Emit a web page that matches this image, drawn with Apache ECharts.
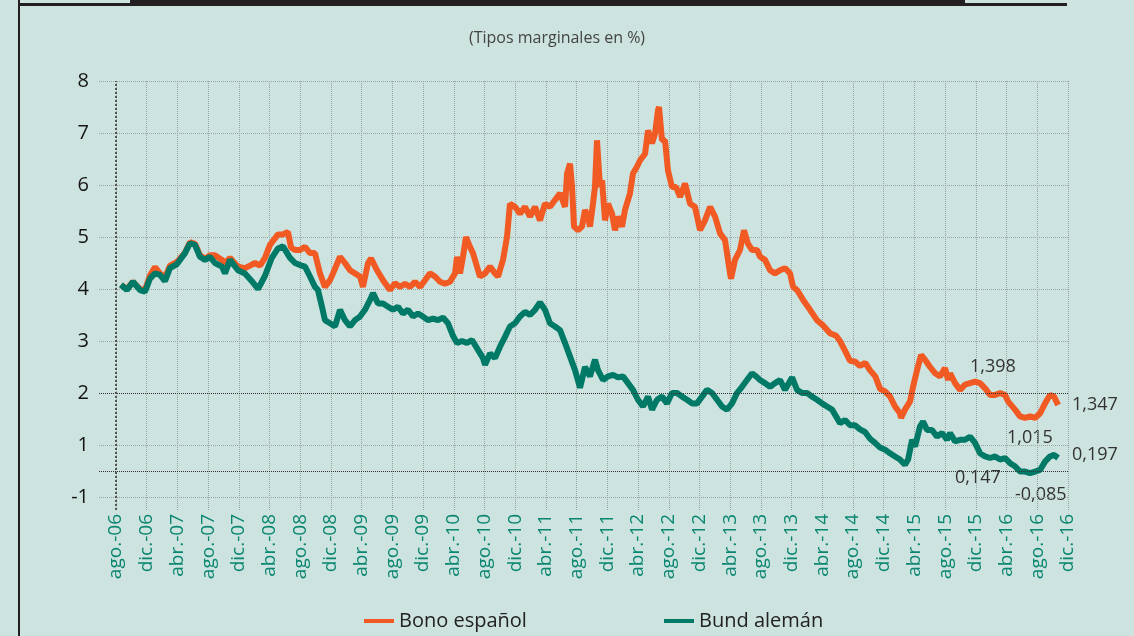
<!DOCTYPE html>
<html><head><meta charset="utf-8">
<script src="https://cdn.jsdelivr.net/npm/echarts@6.0.0/dist/echarts.min.js"></script>
<style>html,body{margin:0;padding:0;background:#cde3e0;}#c{width:1134px;height:636px;}</style>
</head><body><div id="c"></div>
<script>
const xLabels = ['ago.-06','dic.-06','abr.-07','ago.-07','dic.-07','abr.-08','ago.-08','dic.-08','abr.-09','ago.-09','dic.-09','abr.-10','ago.-10','dic.-10','abr.-11','ago.-11','dic.-11','abr.-12','ago.-12','dic.-12','abr.-13','ago.-13','dic.-13','abr.-14','ago.-14','dic.-14','abr.-15','ago.-15','dic.-15','abr.-16','ago.-16','dic.-16'];
const yTicks = [0,1,2,3,4,5,6,7,8];
const yLabels = ['-1','1','2','3','4','5','6','7','8'];
const refLevels = [2, 0.5];

// months since ago.-06
const bonoMonths = [0.65,1.43,2.21,3.13,3.78,4.43,5.08,5.73,6.38,7.03,7.95,8.99,9.64,10.29,10.94,11.59,12.24,12.89,13.81,14.2,14.85,15.89,16.8,17.46,18.11,18.76,19.41,20.06,21.1,21.75,22.4,22.8,23.32,23.97,24.62,25.27,25.92,26.57,27.22,27.88,28.27,29.18,29.83,30.48,31.13,31.78,32.17,32.83,33.22,34.0,34.78,35.69,36.34,36.99,37.64,38.3,38.95,39.6,40.25,40.9,41.55,42.2,42.86,43.51,44.16,44.42,44.81,45.2,45.59,46.11,46.5,47.02,47.41,48.07,48.72,49.37,49.76,50.41,50.93,51.32,51.97,52.62,53.28,53.93,54.58,55.23,55.88,56.53,57.18,57.84,58.49,58.75,59.14,59.4,59.66,60.18,60.7,61.09,61.48,61.74,62.13,62.39,62.65,63.05,63.31,63.7,64.09,64.61,65.0,65.39,65.91,66.3,66.95,67.34,67.86,68.25,68.91,69.3,69.82,70.21,70.6,70.73,71.12,71.51,71.9,72.42,72.95,73.47,74.12,74.77,75.42,76.07,76.72,77.38,78.03,78.68,79.33,79.98,80.11,80.63,81.28,81.8,82.32,82.85,83.5,83.89,84.54,85.19,85.84,86.49,87.14,87.8,88.19,88.71,89.5,90.4,91.3,92.1,93.0,93.8,94.3,95.0,95.6,96.3,96.9,97.6,98.2,98.9,99.52,100.17,100.82,101.47,102.12,102.25,102.77,103.43,103.82,104.34,104.86,105.38,106.03,106.68,107.33,107.98,108.38,108.64,109.29,109.94,110.59,111.24,111.89,112.54,113.2,113.85,114.5,115.15,115.8,116.19,117.1,117.75,118.4,119.06,119.71,120.36,121.01,121.66,122.18,122.71];
const bonoValues = [4.08,4.0,4.14,4.0,3.98,4.26,4.42,4.3,4.22,4.45,4.52,4.7,4.9,4.87,4.65,4.58,4.65,4.65,4.56,4.5,4.6,4.43,4.4,4.45,4.5,4.45,4.6,4.85,5.05,5.05,5.1,4.8,4.75,4.75,4.81,4.69,4.69,4.3,4.04,4.17,4.3,4.62,4.5,4.36,4.3,4.24,4.04,4.5,4.59,4.36,4.17,3.98,4.11,4.04,4.1,4.04,4.14,4.04,4.17,4.3,4.24,4.14,4.1,4.14,4.3,4.62,4.3,4.62,5.0,4.81,4.69,4.43,4.24,4.3,4.43,4.3,4.24,4.56,5.0,5.64,5.58,5.45,5.58,5.39,5.58,5.32,5.64,5.58,5.71,5.84,5.58,6.22,6.41,5.97,5.2,5.13,5.2,5.52,5.39,5.2,5.64,5.96,6.86,5.96,6.09,5.32,5.64,5.45,5.13,5.39,5.2,5.52,5.84,6.22,6.35,6.47,6.6,7.05,6.8,6.99,7.44,7.5,6.86,6.86,6.28,5.96,5.96,5.77,6.03,5.64,5.58,5.13,5.32,5.58,5.39,5.07,4.94,4.3,4.2,4.56,4.75,5.13,4.87,4.75,4.75,4.62,4.56,4.36,4.3,4.36,4.4,4.3,4.04,3.98,3.79,3.6,3.4,3.3,3.15,3.1,3.0,2.8,2.62,2.6,2.52,2.58,2.44,2.32,2.08,2.03,1.93,1.74,1.61,1.52,1.68,1.84,2.12,2.44,2.73,2.64,2.5,2.38,2.32,2.48,2.25,2.38,2.19,2.06,2.16,2.19,2.22,2.19,2.09,1.96,1.96,2.0,1.96,1.84,1.68,1.55,1.52,1.55,1.52,1.61,1.8,1.96,1.93,1.77];

const bundMonths = [0.65,1.43,2.21,3.13,3.78,4.43,5.08,5.73,6.38,7.03,7.95,8.99,9.64,10.29,10.94,11.59,12.24,12.89,13.81,14.2,14.85,15.89,16.8,17.7,18.5,19.4,20.3,21.1,21.75,22.67,23.32,23.97,24.62,25.27,25.92,26.31,26.83,27.22,27.88,28.53,29.18,29.83,30.48,31.13,31.78,32.43,33.09,33.48,34.13,34.78,35.43,36.08,36.73,37.38,38.04,38.69,39.34,39.99,40.64,41.29,41.94,42.59,43.25,43.9,44.42,45.07,45.72,46.37,47.15,47.81,48.07,48.72,49.37,50.02,50.67,51.32,51.97,52.62,53.28,53.93,54.58,55.23,55.88,56.53,57.18,57.84,58.49,59.14,59.79,60.44,61.09,61.74,62.39,62.78,63.44,64.09,64.74,65.39,66.04,66.69,67.34,67.99,68.65,69.3,69.82,70.47,71.12,71.77,72.42,73.08,73.73,74.38,75.03,75.68,76.33,76.98,77.64,78.29,78.94,79.59,80.24,80.89,81.54,82.19,82.85,83.37,83.89,84.54,85.19,85.84,86.49,87.14,88.06,88.71,89.36,90.01,90.66,91.31,91.96,92.61,93.27,93.79,94.31,94.96,95.61,96.26,96.91,97.56,98.22,98.87,99.52,100.17,100.82,101.47,102.12,102.77,103.17,103.69,104.08,104.73,105.12,105.64,106.29,106.94,107.59,108.24,108.64,109.29,109.94,110.59,111.24,111.89,112.54,113.2,113.85,114.5,115.15,115.8,116.45,117.1,117.75,118.4,119.06,119.71,120.36,121.01,121.66,122.18,122.71];
const bundValues = [4.08,3.98,4.14,3.98,3.95,4.2,4.3,4.27,4.15,4.4,4.48,4.69,4.88,4.85,4.62,4.56,4.62,4.5,4.43,4.3,4.56,4.36,4.3,4.15,4.0,4.25,4.6,4.78,4.82,4.6,4.5,4.46,4.43,4.24,4.04,3.98,3.66,3.4,3.34,3.28,3.6,3.4,3.28,3.4,3.47,3.6,3.79,3.92,3.72,3.72,3.66,3.6,3.66,3.53,3.6,3.47,3.53,3.47,3.4,3.43,3.4,3.45,3.34,3.1,2.96,3.0,2.96,3.02,2.83,2.67,2.54,2.76,2.67,2.89,3.08,3.28,3.34,3.47,3.56,3.5,3.6,3.74,3.6,3.34,3.28,3.21,2.96,2.7,2.44,2.1,2.5,2.32,2.64,2.44,2.25,2.32,2.35,2.3,2.32,2.19,2.06,1.87,1.74,1.93,1.68,1.87,1.93,1.8,2.0,2.0,1.93,1.87,1.8,1.8,1.93,2.06,2.0,1.87,1.74,1.68,1.8,2.0,2.12,2.25,2.38,2.32,2.25,2.19,2.12,2.19,2.25,2.06,2.3,2.06,2.0,2.0,1.93,1.87,1.8,1.74,1.68,1.55,1.42,1.48,1.38,1.38,1.3,1.25,1.12,1.04,0.95,0.91,0.84,0.78,0.72,0.62,0.72,1.1,0.97,1.36,1.45,1.29,1.29,1.16,1.23,1.1,1.23,1.07,1.1,1.1,1.16,1.04,0.84,0.78,0.75,0.78,0.72,0.75,0.65,0.59,0.49,0.49,0.46,0.49,0.52,0.68,0.78,0.81,0.75];

const annotationTexts = ['1,398','1,347','1,015','0,197','0,147','-0,085'];

const zip = (a, b) => a.map((m, i) => [m, b[i]]);
const xTickVals = xLabels.map((_, i) => i * 4);
const FONT = 'Open Sans';
const gridLine = { show: true, lineStyle: { color: '#98a3a1', type: 'dotted', width: 1 } };
const annPos = [[970,367],[1072,405],[1007,438],[1072,455],[955,478],[1015,495]];

const chart = echarts.init(document.getElementById('c'), null, { renderer: 'canvas' });
chart.setOption({
  backgroundColor: '#cde3e0',
  animation: false,
  textStyle: { fontFamily: FONT },
  grid: { left: 99, right: 66, top: 81, bottom: 126, containLabel: false },
  xAxis: {
    type: 'value', min: -2.21, max: 124,
    axisLine: { show: false },
    axisTick: { show: false, customValues: xTickVals },
    axisLabel: { customValues: xTickVals, rotate: 90, margin: 4, color: '#0a8670', fontSize: 19, fontFamily: FONT,
      formatter: v => xLabels[Math.round(v / 4)] },
    splitLine: gridLine
  },
  yAxis: {
    type: 'value', min: -0.25, max: 8,
    axisLine: { show: false },
    axisTick: { show: false, customValues: yTicks },
    axisLabel: { customValues: yTicks, margin: 10, color: '#141414', fontSize: 20, fontFamily: FONT,
      formatter: v => yLabels[yTicks.indexOf(Math.round(v))] },
    splitLine: gridLine
  },
  legend: [
    { data: ['Bono español'], left: 359, top: 606, icon: 'rect', itemWidth: 30, itemHeight: 4, itemGap: 7,
      textStyle: { fontSize: 20, color: '#222', fontFamily: FONT } },
    { data: ['Bund alemán'], left: 659, top: 606, icon: 'rect', itemWidth: 30, itemHeight: 4, itemGap: 7,
      textStyle: { fontSize: 20, color: '#222', fontFamily: FONT } }
  ],
  series: [
    { name: 'Bono español', type: 'line', showSymbol: false, data: zip(bonoMonths, bonoValues),
      lineStyle: { width: 6, color: '#f15a22' }, itemStyle: { color: '#f15a22' }, z: 3,
      markLine: { silent: true, symbol: 'none', label: { show: false },
        lineStyle: { color: '#333', type: 'dotted', width: 1 },
        data: refLevels.map(v => ({ yAxis: v })).concat([{ xAxis: 0, lineStyle: { color: '#555', width: 2, type: [2, 2] } }]) } },
    { name: 'Bund alemán', type: 'line', showSymbol: false, data: zip(bundMonths, bundValues),
      lineStyle: { width: 6, color: '#007a67' }, itemStyle: { color: '#007a67' }, z: 4 }
  ],
  graphic: [
    { type: 'rect', shape: { x: 18, y: 0, width: 2, height: 636 }, style: { fill: '#231f20' } },
    { type: 'rect', shape: { x: 18, y: 3, width: 1049, height: 3 }, style: { fill: '#231f20' } },
    { type: 'rect', shape: { x: 130, y: 0, width: 835, height: 6 }, style: { fill: '#231f20' } },
    { type: 'text', style: { text: '(Tipos marginales en %)', x: 557, y: 38, align: 'center', verticalAlign: 'middle',
      font: '16px "Open Sans"', fill: '#444' } }
  ].concat(annotationTexts.map((t, i) => ({ type: 'text', style: { text: t, x: annPos[i][0], y: annPos[i][1],
      verticalAlign: 'middle', font: '18px "Open Sans"', fill: '#333' } })))
});
</script></body></html>
